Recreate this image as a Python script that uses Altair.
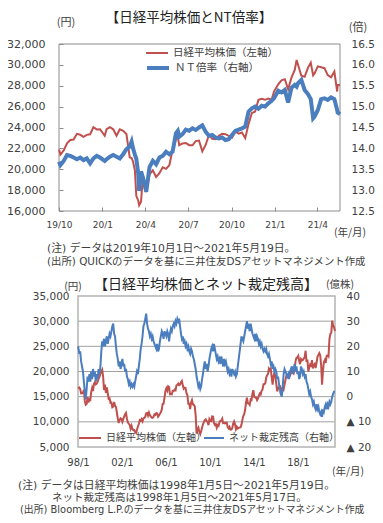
import altair as alt
import pandas as pd

RED = "#c0504d"
BLUE = "#4a7ebf"
JP = "Noto Sans CJK JP"
MIX = "DejaVu Sans, Noto Sans CJK JP"
NUM = "DejaVu Sans"
TXT = "#404040"
W, H = 367, 507

# ---------------- top panel: weekly data ----------------
TOP_DATES = [
    "2019-10-01", "2019-10-04", "2019-10-11", "2019-10-18", "2019-10-25",
    "2019-11-01", "2019-11-08", "2019-11-15", "2019-11-22", "2019-11-29",
    "2019-12-06", "2019-12-13", "2019-12-20", "2019-12-27",
    "2020-01-06", "2020-01-10", "2020-01-17", "2020-01-24", "2020-01-31",
    "2020-02-07", "2020-02-14", "2020-02-21", "2020-02-28",
    "2020-03-03", "2020-03-06", "2020-03-10", "2020-03-13", "2020-03-17", "2020-03-19", "2020-03-23", "2020-03-27",
    "2020-04-03", "2020-04-10", "2020-04-17", "2020-04-24",
    "2020-05-01", "2020-05-08", "2020-05-15", "2020-05-22", "2020-05-29",
    "2020-06-05", "2020-06-09", "2020-06-12", "2020-06-19", "2020-06-26",
    "2020-07-03", "2020-07-10", "2020-07-17", "2020-07-24", "2020-07-31",
    "2020-08-07", "2020-08-14", "2020-08-21", "2020-08-28",
    "2020-09-04", "2020-09-11", "2020-09-18", "2020-09-25",
    "2020-10-02", "2020-10-09", "2020-10-16", "2020-10-23", "2020-10-30",
    "2020-11-06", "2020-11-13", "2020-11-20", "2020-11-27",
    "2020-12-04", "2020-12-11", "2020-12-18", "2020-12-25", "2020-12-30",
    "2021-01-08", "2021-01-15", "2021-01-22", "2021-01-29",
    "2021-02-05", "2021-02-12", "2021-02-16", "2021-02-19", "2021-02-26",
    "2021-03-05", "2021-03-12", "2021-03-18", "2021-03-23", "2021-03-26",
    "2021-04-02", "2021-04-09", "2021-04-16", "2021-04-23", "2021-04-30",
    "2021-05-07", "2021-05-13", "2021-05-14", "2021-05-19",
]
TOP_NIKKEI = [
    21885, 21410, 21799, 22492, 22800,
    22851, 23392, 23303, 23113, 23294,
    23354, 24023, 23816, 23837,
    23204, 23850, 24041, 23827, 23205,
    23827, 23688, 23386, 21142,
    21082, 20749, 19867, 17431, 17011, 16552, 16887, 19389,
    17820, 19498, 19897, 19262,
    19619, 20179, 20037, 20388, 21877,
    22863, 23091, 22305, 22478, 22512,
    22306, 22290, 22696, 22751, 21710,
    22329, 23289, 22920, 22882,
    23205, 23406, 23360, 23204,
    23030, 23619, 23410, 23516, 22977,
    24325, 25385, 25527, 26644,
    26751, 26652, 26763, 26656, 27444,
    28139, 28519, 28631, 27663,
    28779, 29520, 30467, 30018, 28966,
    28864, 29717, 30216, 28996, 29176,
    29854, 29768, 29683, 29020, 28812,
    29357, 27448, 28084, 28044,
]
TOP_NT = [
    13.68, 13.60, 13.70, 13.84, 13.82,
    13.78, 13.74, 13.78, 13.72, 13.76,
    13.64, 13.76, 13.82, 13.78,
    13.70, 13.74, 13.80, 13.84, 13.80,
    13.76, 13.86, 13.98, 14.04,
    14.16, 14.00, 13.85, 13.75, 13.40, 12.98, 13.45, 13.30,
    12.96, 13.55, 13.70, 13.62,
    13.78, 13.82, 13.92, 13.86, 13.92,
    14.36, 14.42, 14.28, 14.34, 14.45,
    14.42, 14.48, 14.44, 14.50, 14.55,
    14.40, 14.30, 14.32, 14.26,
    14.24, 14.26, 14.20, 14.22,
    14.32, 14.42, 14.45, 14.48, 14.52,
    14.88, 14.96, 15.00, 14.95,
    15.02, 15.00, 15.08, 15.14, 15.20,
    15.38, 15.34, 15.40, 15.10,
    15.45, 15.52, 15.48, 15.56, 15.64,
    15.40, 15.30, 15.18, 14.72, 14.76,
    14.92, 15.18, 15.20, 15.16, 15.22,
    15.18, 14.92, 14.86, 14.82,
]

# ---------------- bottom panel: monthly data 1998/1 - 2021/5 ----------------
BOT_NIKKEI = [
    16628, 16831, 16527, 15641, 15671, 15831, 16379, 14108, 13406, 13565, 14884, 13842,  # 1998
    14499, 14368, 15837, 16702, 16112, 17530, 17862, 17437, 17605, 17942, 18558, 18934,  # 1999
    19540, 19960, 20337, 18974, 16332, 17411, 15727, 16861, 15747, 14539, 14649, 13786,  # 2000
    13843, 12884, 12999, 13934, 13262, 12969, 11861, 10714, 9775, 10367, 10697, 10543,   # 2001
    9998, 10588, 11025, 11493, 11764, 10622, 9878, 9619, 9383, 8640, 9216, 8579,         # 2002
    8340, 8363, 7973, 7831, 8425, 9083, 9563, 10344, 10219, 10560, 10101, 10677,         # 2003
    10784, 11042, 11715, 11762, 11236, 11859, 11326, 11082, 10824, 10771, 11003, 11489,  # 2004
    11388, 11741, 11669, 11009, 11277, 11584, 11900, 12414, 13574, 13607, 14872, 16111,  # 2005
    16650, 16206, 17060, 16907, 15468, 15505, 15457, 16141, 16128, 16399, 16274, 17226,  # 2006
    17383, 17604, 17288, 17400, 17876, 18138, 17249, 16569, 16786, 16737, 15681, 15308,  # 2007
    13592, 13604, 12526, 13850, 14339, 13482, 13377, 13073, 11260, 7650, 8512, 8860,     # 2008
    7994, 7568, 8110, 8828, 9523, 9958, 10357, 10493, 10133, 10035, 9346, 10546,         # 2009
    10198, 10126, 11090, 11057, 9769, 9383, 9537, 8824, 9369, 9202, 9937, 10229,         # 2010
    10237, 10624, 9755, 9850, 9694, 9816, 9833, 8955, 8700, 8988, 8435, 8455,            # 2011
    8803, 9723, 10084, 9521, 8542, 9007, 8695, 8840, 8870, 8928, 9446, 10395,            # 2012
    11139, 11559, 12398, 13861, 14800, 13677, 13668, 13389, 14456, 14328, 15662, 16291,  # 2013
    14915, 14841, 14828, 14304, 14632, 15162, 15621, 15425, 16174, 16414, 17460, 17451,  # 2014
    17674, 18798, 19207, 19520, 20563, 20236, 20585, 18890, 17388, 19083, 19747, 19034,  # 2015
    17518, 16027, 16759, 16666, 17235, 15576, 16569, 16887, 16450, 17425, 18308, 19114,  # 2016
    19041, 19119, 18909, 19197, 19651, 20033, 19925, 19646, 20356, 22012, 22725, 22765,  # 2017
    23098, 22068, 21454, 22468, 22202, 22305, 22554, 22865, 24120, 21920, 22351, 20015,  # 2018
    20773, 21385, 21206, 22259, 20601, 21276, 21522, 20704, 21756, 22927, 23294, 23657,  # 2019
    23205, 21143, 17400, 20194, 21878, 22288, 21710, 23140, 23185, 22977, 26434, 27444,  # 2020
    27663, 30100, 29179, 28813, 28044,                                                  # 2021
]
BOT_ARB = [
    20, 17, 18, 14, 12, 10, 6, 2, -1, 3, 8, 6,        # 1998
    9, 6, 10, 7, 11, 8, 10, 6, 9, 7, 11, 9,           # 1999
    12, 18, 22, 21, 23, 20, 22, 24, 21, 23, 25, 24,   # 2000
    26, 28, 29, 25, 24, 20, 17, 15, 12, 14, 11, 13,   # 2001
    15, 12, 13, 10, 11, 8, 7, 5, 6, 4, 5, 4,          # 2002
    5, 4, 6, 8, 10, 9, 12, 15, 19, 21, 24, 28,        # 2003
    29, 31, 33, 29, 27, 26, 24, 25, 23, 24, 22, 21,   # 2004
    20, 19, 21, 18, 19, 22, 24, 26, 25, 23, 26, 25,   # 2005
    24, 26, 25, 22, 25, 27, 26, 28, 29, 28, 30, 29,   # 2006
    31, 30, 31, 28, 25, 23, 24, 21, 22, 20, 21, 19,   # 2007
    20, 18, 17, 19, 18, 16, 15, 13, 11, 8, 6, 4,      # 2008
    5, 3, 4, 7, 9, 12, 14, 11, 13, 10, 12, 15,        # 2009
    17, 19, 20, 18, 21, 19, 17, 15, 16, 14, 15, 13,   # 2010
    16, 14, 12, 15, 13, 14, 12, 10, 11, 9, 10, 8,     # 2011
    11, 10, 9, 10, 8, 9, 12, 15, 18, 21, 24, 23,      # 2012
    22, 24, 26, 28, 30, 27, 28, 26, 29, 27, 25, 24,   # 2013
    23, 25, 22, 24, 23, 21, 22, 20, 21, 19, 18, 19,   # 2014
    18, 19, 17, 16, 17, 15, 13, 14, 11, 12, 10, 11,   # 2015
    10, 7, 8, 5, 3, 1, 0, 4, 9, 11, 10, 9,            # 2016
    8, 9, 7, 10, 11, 12, 9, 11, 13, 10, 12, 9,        # 2017
    10, 7, 8, 12, 11, 9, 10, 8, 9, 6, 5, 3,           # 2018
    1, 2, 0, -1, -3, -2, -4, -5, -3, -5, -4, -6,      # 2019
    -7, -6, -8, -5, -6, -4, -3, -5, -3, -4, -2, -3,   # 2020
    -2, 0, 1, 2, 2,                                   # 2021
]

TOP_X_TICKS = [(2019, 10), (2020, 1), (2020, 4), (2020, 7), (2020, 10), (2021, 1), (2021, 4)]
TOP_LEFT_TICKS = [16000, 18000, 20000, 22000, 24000, 26000, 28000, 30000, 32000]
TOP_RIGHT_TICKS = [12.5, 13.0, 13.5, 14.0, 14.5, 15.0, 15.5, 16.0, 16.5]
BOT_X_TICKS = [1998, 2002, 2006, 2010, 2014, 2018]
BOT_LEFT_TICKS = [5000, 10000, 15000, 20000, 25000, 30000, 35000]
BOT_RIGHT_TICKS = [-20, -10, 0, 10, 20, 30, 40]
BOT_GRID = [10000, 15000, 20000, 25000, 30000]

bot_dates = [f"{1998 + i // 12}-{i % 12 + 1:02d}-15" for i in range(len(BOT_NIKKEI))]
bot_dates[0] = "1998-01-05"
bot_dates[-1] = "2021-05-19"

top_df = pd.DataFrame({"date": TOP_DATES, "nikkei": TOP_NIKKEI, "nt": TOP_NT})
bot_df = pd.DataFrame({"date": bot_dates, "nikkei": BOT_NIKKEI, "arb": BOT_ARB})


def dt(y, m, d=1):
    return alt.DateTime(year=y, month=m, date=d, utc=True)


# pixel layout (inside the svg)
TX0, TX1, TY0, TY1 = 51, 332, 203, 36
BX0, BX1, BY0, BY1 = 70, 327, 439, 288


def top_x():
    return alt.Scale(type="utc", domain=[dt(2019, 10, 1), dt(2021, 5, 19)], range=[TX0, TX1])


def bot_x():
    return alt.Scale(type="utc", domain=[dt(1998, 1, 1), dt(2021, 5, 19)], range=[BX0, BX1])


top_yl = alt.Scale(domain=[16000, 32000], range=[TY0, TY1], nice=False, zero=False)
top_yr = alt.Scale(domain=[12.5, 16.5], range=[TY0, TY1], nice=False, zero=False)
bot_yl = alt.Scale(domain=[5000, 35000], range=[BY0, BY1], nice=False, zero=False)
bot_yr = alt.Scale(domain=[-20, 40], range=[BY0, BY1], nice=False, zero=False)

top_xvals = [dt(y, m) for y, m in TOP_X_TICKS]
bot_xvals = [dt(y, 1) for y in BOT_X_TICKS]


def leg(x, y, sw, length, size):
    return alt.Legend(orient="none", legendX=x, legendY=y, title=None, padding=0,
                      symbolType="stroke", symbolSize=length * length, symbolStrokeWidth=sw,
                      labelFont=JP, labelFontSize=size, labelColor=TXT, labelOffset=4)


# ---- top frame with inner ticks ----
top_frame = alt.Chart(pd.DataFrame({"x1": ["2019-10-01"], "x2": ["2021-05-19"], "y1": [16000], "y2": [32000]})).mark_rect(
    fillOpacity=0, stroke="#8c8c8c", strokeWidth=1
).encode(
    x=alt.X("x1:T", scale=top_x(), axis=alt.Axis(orient="top", offset=-TY0, values=top_xvals, labels=False,
                                                 domain=False, ticks=True, tickSize=4, tickColor="#8c8c8c",
                                                 grid=False, title=None)),
    x2="x2:T",
    y=alt.Y("y1:Q", scale=top_yl, axis=alt.Axis(orient="right", offset=TX0 - W, values=TOP_LEFT_TICKS, labels=False,
                                                domain=False, ticks=True, tickSize=4, tickColor="#8c8c8c",
                                                grid=False, title=None)),
    y2="y2:Q",
)

top_nk = alt.Chart(top_df).transform_calculate(s="'日経平均株価（左軸）'").mark_line(strokeWidth=2).encode(
    x=alt.X("date:T", scale=top_x(), axis=alt.Axis(orient="bottom", offset=TY0 - H, values=top_xvals, format="%y/%-m",
                                                   domain=False, ticks=False, grid=False, labelPadding=9,
                                                   labelFlush=False, labelOverlap=False,
                                                   labelFont=NUM, labelFontSize=9, labelColor=TXT, title=None)),
    y=alt.Y("nikkei:Q", scale=top_yl, axis=alt.Axis(orient="left", offset=-TX0, values=TOP_LEFT_TICKS, format=",d",
                                                    domain=False, ticks=False, grid=False, labelPadding=14,
                                                    labelOverlap=False,
                                                    labelFont=NUM, labelFontSize=11, labelColor=TXT, title=None)),
    color=alt.Color("s:N", scale=alt.Scale(domain=["日経平均株価（左軸）"], range=[RED]), legend=leg(137, 33, 2, 22, 10.5)),
)

top_nt = alt.Chart(top_df).transform_calculate(s="'ＮＴ倍率（右軸）'").mark_line(strokeWidth=4).encode(
    x=alt.X("date:T", scale=top_x(), axis=None),
    y=alt.Y("nt:Q", scale=top_yr, axis=alt.Axis(orient="right", offset=TX1 - W, values=TOP_RIGHT_TICKS, format=".1f",
                                               domain=False, ticks=False, grid=False, labelPadding=11,
                                               labelOverlap=False,
                                               labelFont=NUM, labelFontSize=10.5, labelColor=TXT, title=None)),
    color=alt.Color("s:N", scale=alt.Scale(domain=["ＮＴ倍率（右軸）"], range=[BLUE]), legend=leg(137, 47, 4, 22, 10.5)),
)

# ---- bottom panel ----
bot_grid = alt.Chart(pd.DataFrame({"y": BOT_GRID, "x1": ["1998-01-01"] * len(BOT_GRID), "x2": ["2021-05-19"] * len(BOT_GRID)})).mark_rule(
    color="#a0a0a0", strokeWidth=1
).encode(
    x=alt.X("x1:T", scale=bot_x(), axis=None), x2="x2:T",
    y=alt.Y("y:Q", scale=bot_yl, axis=None),
)

bot_frame = alt.Chart(pd.DataFrame({"x1": ["1998-01-01"], "x2": ["2021-05-19"], "y1": [5000], "y2": [35000]})).mark_rect(
    fillOpacity=0, stroke="#b4b4b4", strokeWidth=1.5
).encode(
    x=alt.X("x1:T", scale=bot_x(), axis=None), x2="x2:T",
    y=alt.Y("y1:Q", scale=bot_yl, axis=None), y2="y2:Q",
)

bot_nk = alt.Chart(bot_df).transform_calculate(s="'日経平均株価（左軸）'").mark_line(strokeWidth=2).encode(
    x=alt.X("date:T", scale=bot_x(), axis=alt.Axis(orient="bottom", offset=BY0 - H, values=bot_xvals, format="%y/%-m",
                                                   domain=False, ticks=False, grid=False, labelPadding=10,
                                                   labelFlush=False, labelOverlap=False,
                                                   labelFont=NUM, labelFontSize=10, labelColor=TXT, title=None)),
    y=alt.Y("nikkei:Q", scale=bot_yl, axis=alt.Axis(orient="left", offset=-BX0, values=BOT_LEFT_TICKS, format=",d",
                                                    domain=False, ticks=False, grid=False, labelPadding=9,
                                                    labelOverlap=False,
                                                    labelFont=NUM, labelFontSize=10.5, labelColor=TXT, title=None)),
    color=alt.Color("s:N", scale=alt.Scale(domain=["日経平均株価（左軸）"], range=[RED]), legend=leg(70, 418, 2, 22, 10)),
)

bot_arb = alt.Chart(bot_df).transform_calculate(s="'ネット裁定残高（右軸）'").mark_line(strokeWidth=2).encode(
    x=alt.X("date:T", scale=bot_x(), axis=None),
    y=alt.Y("arb:Q", scale=bot_yr, axis=alt.Axis(orient="right", offset=BX1 - W, values=BOT_RIGHT_TICKS,
                                                labelExpr="datum.value < 0 ? '▲ ' + (-datum.value) : datum.label",
                                                domain=False, ticks=False, grid=False, labelPadding=11,
                                                labelOverlap=False,
                                                labelFont=NUM, labelFontSize=10.5, labelColor=TXT, title=None)),
    color=alt.Color("s:N", scale=alt.Scale(domain=["ネット裁定残高（右軸）"], range=[BLUE]), legend=leg(195, 419, 2, 20, 10)),
)

ANN = pd.DataFrame({"k": [0]})


def label(text, x, y, size=11, align="left", font=JP, color=TXT):
    return alt.Chart(ANN).mark_text(text=text, align=align, baseline="middle", font=font,
                                    fontSize=size, color=color).encode(x=alt.value(x), y=alt.value(y))


texts = [
    label("【日経平均株価とNT倍率】", 181, 10, size=13.5, align="center", color="#222222"),
    label("(円)", 58, 15, size=11, align="center"),
    label("(倍)", 350, 20, size=11, align="center"),
    label("(年/月)", 342, 225, size=10.5, align="center"),
    label("(注) データは2019年10月1日～2021年5月19日。", 39, 240.5, size=10.8, font=MIX),
    label("(出所) QUICKのデータを基に三井住友DSアセットマネジメント作成", 39, 253.5, size=10.4, font=MIX),
    label("【日経平均株価とネット裁定残高】", 198, 277, size=14, align="center", color="#222222"),
    label("(円)", 65, 279, size=10.5, align="center"),
    label("(億株)", 332, 277, size=10.5, align="center"),
    label("(年/月)", 340, 464, size=10.5, align="center"),
    label("(注) データは日経平均株価は1998年1月5日～2021年5月19日。", 10, 478, size=10.8, font=MIX),
    label("ネット裁定残高は1998年1月5日～2021年5月17日。", 44, 490, size=10.5, font=MIX),
    label("(出所) Bloomberg L.P.のデータを基に三井住友DSアセットマネジメント作成", 12, 501.5, size=9.9, font=MIX),
]

chart = alt.layer(
    top_frame, top_nk, top_nt,
    bot_grid, bot_frame, bot_nk, bot_arb,
    *texts,
).resolve_scale(
    x="independent", y="independent", color="independent"
).properties(
    width=W, height=H, padding=0, autosize=alt.AutoSizeParams(type="none"), background="white"
).configure_view(strokeWidth=0)

chart.save("out.html", embed_options={"renderer": "svg", "actions": False})
